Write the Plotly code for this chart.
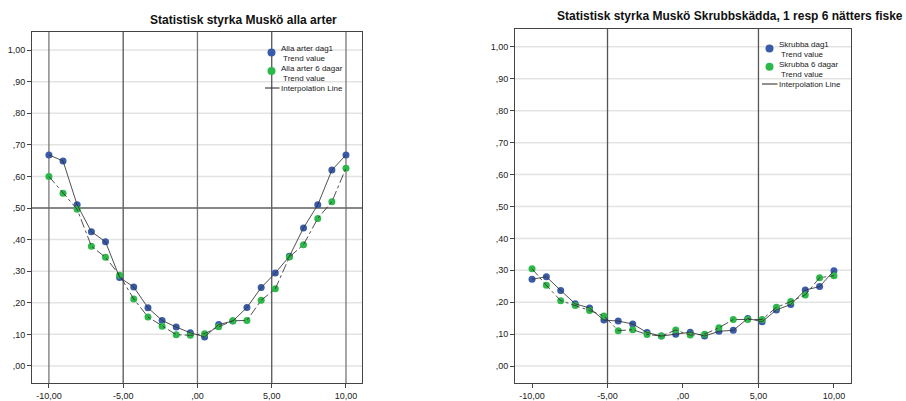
import plotly.graph_objects as go

# x positions: 22 evenly spaced points from -10 to 10
x_vals = [-10.0, -9.05, -8.10, -7.14, -6.19, -5.24, -4.29, -3.33, -2.38, -1.43, -0.48,
          0.48, 1.43, 2.38, 3.33, 4.29, 5.24, 6.19, 7.14, 8.10, 9.05, 10.0]

alla_dag1 = [0.668, 0.649, 0.510, 0.425, 0.393, 0.280, 0.250, 0.184, 0.144, 0.123, 0.105,
             0.092, 0.131, 0.142, 0.185, 0.248, 0.294, 0.347, 0.437, 0.510, 0.620, 0.668]
alla_6dagar = [0.600, 0.547, 0.496, 0.379, 0.344, 0.287, 0.212, 0.155, 0.126, 0.099, 0.097,
               0.102, 0.124, 0.143, 0.144, 0.208, 0.244, 0.345, 0.384, 0.467, 0.520, 0.626]

skrubba_dag1 = [0.272, 0.280, 0.237, 0.195, 0.182, 0.144, 0.141, 0.132, 0.105, 0.094, 0.100,
                0.106, 0.094, 0.109, 0.112, 0.149, 0.139, 0.176, 0.193, 0.238, 0.249, 0.299]
skrubba_6dagar = [0.305, 0.253, 0.205, 0.190, 0.174, 0.157, 0.111, 0.114, 0.099, 0.094, 0.113,
                  0.097, 0.100, 0.120, 0.146, 0.146, 0.146, 0.184, 0.202, 0.223, 0.277, 0.283]

x_ticks = [-10, -5, 0, 5, 10]
x_ticktext = ["-10,00", "-5,00", ",00", "5,00", "10,00"]
y_ticks = [0.0, 0.1, 0.2, 0.3, 0.4, 0.5, 0.6, 0.7, 0.8, 0.9, 1.0]
y_ticktext = [",00", ",10", ",20", ",30", ",40", ",50", ",60", ",70", ",80", ",90", "1,00"]

left_vlines = [-10, -5, 0, 5, 10]
left_hlines = [0.5]
right_vlines = [-5, 5]

titles = ["Statistisk styrka Muskö alla arter",
          "Statistisk styrka Muskö Skrubbskädda, 1 resp 6 nätters fiske"]
left_legend = ["Alla arter dag1", "Alla arter 6 dagar"]
right_legend = ["Skrubba dag1", "Skrubba 6 dagar"]
trend_label = "Trend value"
interp_label = "Interpolation Line"

BLUE = "#3A5BAA"
GREEN = "#2DB84A"
LINE = "#333333"
FONT = "Liberation Sans, Arial, sans-serif"
W, H = 906, 401

fig = go.Figure()


def add_panel(xa, ya, y1, y2, name1, name2):
    fig.add_trace(go.Scatter(x=x_vals, y=y1, mode="markers", xaxis=xa, yaxis=ya, name=name1,
                             marker=dict(color=BLUE, size=7, line=dict(width=0))))
    fig.add_trace(go.Scatter(x=x_vals, y=y2, mode="markers", xaxis=xa, yaxis=ya, name=name2,
                             marker=dict(color=GREEN, size=7, line=dict(width=0))))
    # interpolation lines drawn on top of the markers, as in the reference
    fig.add_trace(go.Scatter(x=x_vals, y=y1, mode="lines", xaxis=xa, yaxis=ya,
                             line=dict(color=LINE, width=1), opacity=0.85,
                             name=name1 + " interpolation", hoverinfo="skip"))
    fig.add_trace(go.Scatter(x=x_vals, y=y2, mode="lines", xaxis=xa, yaxis=ya,
                             line=dict(color=LINE, width=1, dash="dashdot"), opacity=0.85,
                             name=name2 + " interpolation", hoverinfo="skip"))


add_panel("x", "y", alla_dag1, alla_6dagar, left_legend[0], left_legend[1])
add_panel("x2", "y2", skrubba_dag1, skrubba_6dagar, right_legend[0], right_legend[1])

axis_common = dict(showline=True, linecolor="#444444", linewidth=1, mirror=True,
                   ticks="outside", ticklen=4, tickcolor="#444444", zeroline=False,
                   showgrid=False,
                   tickfont=dict(family=FONT, size=9, color="#222222"))

fig.update_layout(
    width=W, height=H,
    margin=dict(l=0, r=0, t=0, b=0),
    paper_bgcolor="white", plot_bgcolor="white",
    showlegend=False,
    font=dict(family=FONT, color="#111111"),
    xaxis=dict(domain=[0.0353, 0.3996], range=[-11.14, 11.08], tickvals=x_ticks,
               ticktext=x_ticktext, anchor="y", **axis_common),
    yaxis=dict(domain=[0.0449, 0.920], range=[-0.054, 1.057], tickvals=y_ticks,
               ticktext=y_ticktext, anchor="x", **axis_common),
    xaxis2=dict(domain=[0.5684, 0.9393], range=[-11.13, 11.13], tickvals=x_ticks,
                ticktext=x_ticktext, anchor="y2", **axis_common),
    yaxis2=dict(domain=[0.0449, 0.9277], range=[-0.053, 1.056], tickvals=y_ticks,
                ticktext=y_ticktext, anchor="x2", **axis_common),
)

shapes = []
# horizontal grid lines (drawn as shapes so reference lines can sit above them)
for xr, yr in (("x domain", "y"), ("x2 domain", "y2")):
    for t in y_ticks:
        shapes.append(dict(type="line", xref=xr, yref=yr, x0=0, x1=1, y0=t, y1=t,
                           line=dict(color="#E3E3E3", width=1.5), layer="below"))
for v in left_vlines:
    shapes.append(dict(type="line", xref="x", yref="y domain", x0=v, x1=v, y0=0, y1=1,
                       line=dict(color="#555555" if v in (-5, 5) else "#777777", width=1.3),
                       layer="below"))
for h in left_hlines:
    shapes.append(dict(type="line", xref="x domain", yref="y", x0=0, x1=1, y0=h, y1=h,
                       line=dict(color="#666666", width=1.3), layer="below"))
for v in right_vlines:
    shapes.append(dict(type="line", xref="x2", yref="y2 domain", x0=v, x1=v, y0=0, y1=1,
                       line=dict(color="#555555", width=1.3), layer="below"))

annotations = [
    dict(text="<b>" + titles[0] + "</b>", xref="paper", yref="paper",
         x=243.5 / W, y=1 - 20 / H, xanchor="center", yanchor="middle",
         showarrow=False, font=dict(family=FONT, size=12, color="#111111")),
    dict(text="<b>" + titles[1] + "</b>", xref="paper", yref="paper",
         x=730 / W, y=1 - 16 / H, xanchor="center", yanchor="middle",
         showarrow=False, font=dict(family=FONT, size=12, color="#111111")),
]


def px(x):
    return x / W


def py(y):
    return 1 - y / H


def add_legend(labels, mx, tx, m1, m2, e1, e2, ti, lx0):
    r = 4
    for (my, col) in ((m1, BLUE), (m2, GREEN)):
        shapes.append(dict(type="circle", xref="paper", yref="paper",
                           x0=px(mx - r), x1=px(mx + r), y0=py(my + r), y1=py(my - r),
                           fillcolor=col, line=dict(width=0), layer="above"))
    shapes.append(dict(type="line", xref="paper", yref="paper",
                       x0=px(lx0), x1=px(tx - 1), y0=py(ti), y1=py(ti),
                       line=dict(color="#222222", width=1), layer="above"))
    items = [(labels[0] + "<br> " + trend_label, e1), (labels[1] + "<br> " + trend_label, e2),
             (interp_label, ti)]
    for text, y in items:
        annotations.append(dict(text=text, xref="paper", yref="paper", x=px(tx),
                                y=py(y), xanchor="left", yanchor="middle", align="left",
                                showarrow=False, borderpad=0, borderwidth=0,
                                font=dict(family=FONT, size=8, color="#222222")))


add_legend(left_legend, 271.5, 280.5, 52.5, 71, 53.5, 73.5, 88, 265)
add_legend(right_legend, 769.5, 778.5, 48.5, 66.8, 49.5, 69.5, 84, 762)

fig.update_layout(shapes=shapes, annotations=annotations)

fig.write_html("out.html")
